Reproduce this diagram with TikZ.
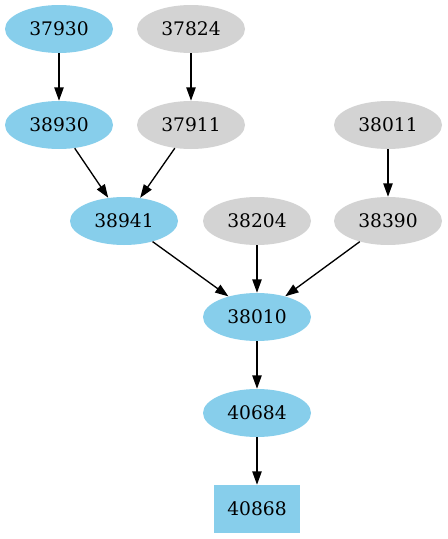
\documentclass[tikz,border=0pt]{standalone}
\usepackage{fontspec}
\setmainfont{DejaVu Serif}
\usetikzlibrary{arrows.meta,shapes.geometric}
\definecolor{skyfill}{HTML}{87CEEB}
\definecolor{greyfill}{HTML}{D3D3D3}

\begin{document}
\begin{tikzpicture}[x=0.75pt, y=-0.75pt, >={Triangle[length=10pt,width=7pt]},
  font=\fontsize{14}{16}\selectfont,
  oval/.style={ellipse, minimum width=81pt, minimum height=36pt, inner sep=0pt},
  sky/.style={oval, fill=skyfill},
  grey/.style={oval, fill=greyfill},
  edge/.style={->, line width=1pt}]
  \useasboundingbox (0,0) rectangle (447,539);

  \node[sky]  (n37930) at (59,29)   {37930};
  \node[grey] (n37824) at (191,29)  {37824};
  \node[sky]  (n38930) at (59,125)  {38930};
  \node[grey] (n37911) at (191,125) {37911};
  \node[grey] (n38011) at (388,125) {38011};
  \node[sky]  (n38941) at (124,221) {38941};
  \node[grey] (n38204) at (257,221) {38204};
  \node[grey] (n38390) at (388,221) {38390};
  \node[sky]  (n38010) at (257,317) {38010};
  \node[sky]  (n40684) at (257,413) {40684};
  \node[fill=skyfill, minimum width=64pt, minimum height=36pt, inner sep=0pt]
    (n40868) at (257,509) {40868};

  \draw[edge] (n37930) -- (n38930);
  \draw[edge] (n37824) -- (n37911);
  \draw[edge] (n38011) -- (n38390);
  \draw[edge] (n38930) -- (n38941);
  \draw[edge] (n37911) -- (n38941);
  \draw[edge] (n38941) -- (n38010);
  \draw[edge] (n38204) -- (n38010);
  \draw[edge] (n38390) -- (n38010);
  \draw[edge] (n38010) -- (n40684);
  \draw[edge] (n40684) -- (n40868);
\end{tikzpicture}
\end{document}
